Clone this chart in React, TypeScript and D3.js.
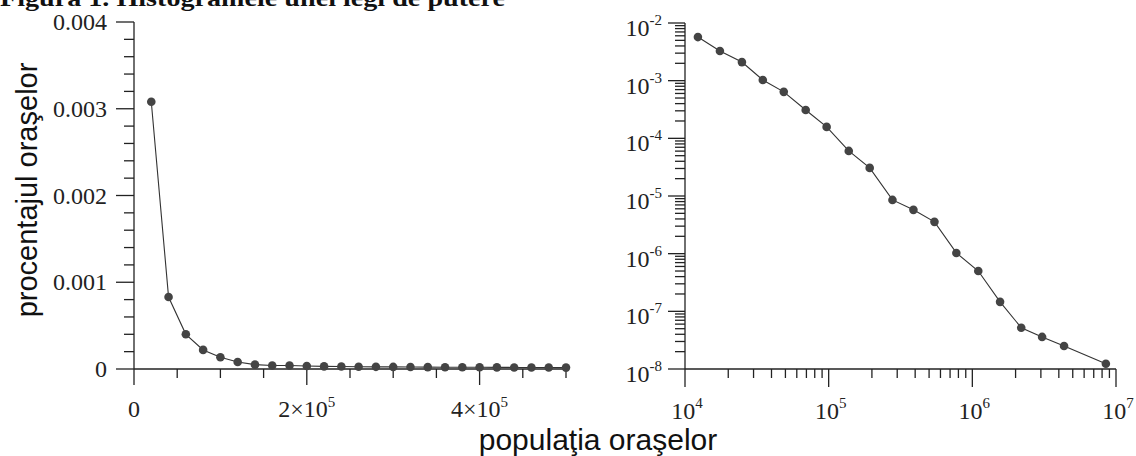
import React from 'react';
import * as d3 from 'd3';

// left panel: linear histogram (bins of 2x10^4)
const linPop = [
  2e4, 4e4, 6e4, 8e4, 1e5, 1.2e5, 1.4e5, 1.6e5, 1.8e5, 2e5, 2.2e5, 2.4e5, 2.6e5,
  2.8e5, 3e5, 3.2e5, 3.4e5, 3.6e5, 3.8e5, 4e5, 4.2e5, 4.4e5, 4.6e5, 4.8e5, 5e5,
];
const linShare = [
  0.00308, 0.00083, 0.0004, 0.00022, 0.000135, 0.00008, 0.00005, 0.00004, 0.00004,
  0.000035, 0.00003, 0.000028, 0.000026, 0.000025, 0.000024, 0.000023, 0.000022,
  0.000021, 0.00002, 0.00002, 0.000019, 0.000018, 0.000018, 0.000017, 0.000016,
];

// right panel: log-log histogram
const logPop = [
  1.23e4, 1.75e4, 2.49e4, 3.48e4, 4.87e4, 6.92e4, 9.68e4, 1.38e5, 1.93e5, 2.78e5,
  3.89e5, 5.45e5, 7.74e5, 1.1e6, 1.56e6, 2.19e6, 3.06e6, 4.35e6, 8.5e6,
];
const logShare = [
  5.7e-3, 3.27e-3, 2.1e-3, 1.03e-3, 6.4e-4, 3.1e-4, 1.58e-4, 6.05e-5, 3.07e-5, 8.55e-6,
  5.75e-6, 3.56e-6, 1.03e-6, 5.0e-7, 1.46e-7, 5.2e-8, 3.6e-8, 2.5e-8, 1.23e-8,
];

const leftYLabels = ['0', '0.001', '0.002', '0.003', '0.004'];
const leftXMajor = [0, 2e5, 4e5];
const leftXLabels = [['0', ''], ['2×10', '5'], ['4×10', '5']];
const rightXExp = [4, 5, 6, 7];
const rightYExp = [-2, -3, -4, -5, -6, -7, -8];

const title = 'Figura 1. Histogramele unei legi de putere';
const yTitle = 'procentajul oraşelor';
const xTitle = 'populaţia oraşelor';

const ink = '#222';
const serif = '"Liberation Serif", "DejaVu Serif", serif';
const sans = '"Liberation Sans", Arial, sans-serif';

const App: React.FC = () => {
  const lx = d3.scaleLinear().domain([0, 5e5]).range([134, 566]);
  const ly = d3.scaleLinear().domain([0, 0.004]).range([369, 22]);
  const rx = d3.scaleLog().domain([1e4, 1e7]).range([685, 1116]);
  const ry = d3.scaleLog().domain([1e-8, 1e-2]).range([369, 23]);

  const lineL = d3.line<number>().x((d, i) => lx(linPop[i])).y(d => ly(d));
  const lineR = d3.line<number>().x((d, i) => rx(logPop[i])).y(d => ry(d));

  const lyMinor = ly.ticks(20);
  const lxMinor = lx.ticks(10);
  const ryMinor = ry.ticks();
  const rxMinor = rx.ticks();

  const y0L = ly(0);
  const x0L = lx(0);
  const y0R = ry(1e-8);
  const x0R = rx(1e4);

  return (
    <svg width={1136} height={456} style={{ position: 'absolute', left: 0, top: 0, background: '#fff' }}>
      <text x={0} y={6} fontFamily={serif} fontWeight="bold" fontSize={23} textLength={505} lengthAdjust="spacingAndGlyphs" fill="#111">
        {title}
      </text>

      {/* left panel */}
      <g stroke={ink} strokeWidth={1.3}>
        <line x1={x0L} x2={x0L} y1={ly(0.004)} y2={y0L} />
        <line x1={x0L} x2={lx(5e5)} y1={y0L} y2={y0L} />
        {lyMinor.map(t => {
          const major = Math.abs(t * 1000 - Math.round(t * 1000)) < 1e-9;
          return <line key={'ly' + t} x1={x0L - (major ? 18 : 10)} x2={x0L} y1={ly(t)} y2={ly(t)} />;
        })}
        {lxMinor.map(t => {
          const major = leftXMajor.includes(t);
          return <line key={'lx' + t} x1={lx(t)} x2={lx(t)} y1={y0L} y2={y0L + (major ? 16 : 9)} />;
        })}
      </g>
      {leftYLabels.map((s, i) => (
        <text key={'lyl' + s} x={107} y={ly(i * 0.001) + 8} textAnchor="end" fontFamily={serif} fontSize={24} fill={ink}>
          {s}
        </text>
      ))}
      {leftXMajor.map((v, i) => (
        <text key={'lxl' + v} x={lx(v)} y={417} textAnchor="middle" fontFamily={serif} fontSize={24} fill={ink}>
          {leftXLabels[i][0]}
          {leftXLabels[i][1] && (
            <tspan dy={-10} fontSize={15}>{leftXLabels[i][1]}</tspan>
          )}
        </text>
      ))}
      <path d={lineL(linShare) || ''} fill="none" stroke="#333" strokeWidth={1.1} />
      {linShare.map((v, i) => (
        <circle key={'lp' + i} cx={lx(linPop[i])} cy={ly(v)} r={4.3} fill="#444" />
      ))}
      <text transform="translate(37,190) rotate(-90)" textAnchor="middle" fontFamily={sans} fontSize={29} fill="#111">
        {yTitle}
      </text>

      {/* right panel */}
      <g stroke={ink} strokeWidth={1.3}>
        <line x1={x0R} x2={x0R} y1={ry(1e-2)} y2={y0R} />
        <line x1={x0R} x2={rx(1e7)} y1={y0R} y2={y0R} />
        {ryMinor.map((t, i) => {
          const major = rightYExp.some(e => Math.abs(Math.log10(t) - e) < 1e-6);
          return <line key={'ry' + i} x1={x0R - (major ? 17 : 10)} x2={x0R} y1={ry(t)} y2={ry(t)} />;
        })}
        {rxMinor.map((t, i) => {
          const major = rightXExp.some(e => Math.abs(Math.log10(t) - e) < 1e-6);
          return <line key={'rx' + i} x1={rx(t)} x2={rx(t)} y1={y0R} y2={y0R + (major ? 18 : 9)} />;
        })}
      </g>
      {rightYExp.map(e => (
        <text key={'ryl' + e} x={662} y={ry(Math.pow(10, e)) + 13} textAnchor="end" fontFamily={serif} fontSize={24} fill={ink}>
          10<tspan dy={-11} fontSize={15}>{String(e)}</tspan>
        </text>
      ))}
      {rightXExp.map(e => (
        <text key={'rxl' + e} x={rx(Math.pow(10, e)) + 2} y={419} textAnchor="middle" fontFamily={serif} fontSize={24} fill={ink}>
          10<tspan dy={-11} fontSize={15}>{String(e)}</tspan>
        </text>
      ))}
      <path d={lineR(logShare) || ''} fill="none" stroke="#333" strokeWidth={1.1} />
      {logShare.map((v, i) => (
        <circle key={'rp' + i} cx={rx(logPop[i])} cy={ry(v)} r={4.3} fill="#444" />
      ))}

      <text x={598} y={450} textAnchor="middle" fontFamily={sans} fontSize={30} fill="#111">
        {xTitle}
      </text>
    </svg>
  );
};

export default App;
